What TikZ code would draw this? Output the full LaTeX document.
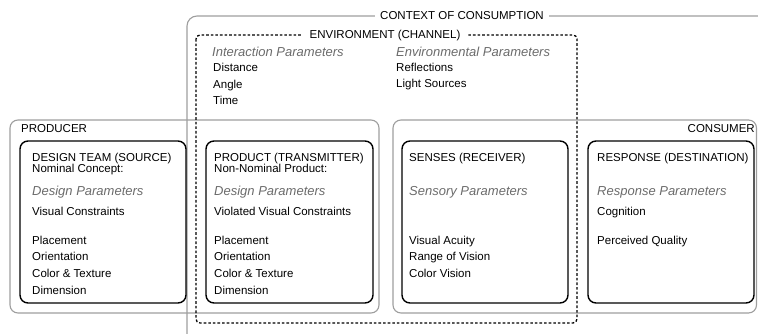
\documentclass[tikz,border=0pt]{standalone}
\usepackage{fontspec}
\setmainfont{Liberation Sans}
\begin{document}
\begin{tikzpicture}[x=1pt,y=-1pt,
  outerbox/.style={draw=black!38, line width=1.1pt, rounded corners=8pt},
  innerbox/.style={draw=black, line width=1.4pt, rounded corners=8pt},
  envbox/.style={draw=black, line width=1.3pt, dash pattern=on 2.6pt off 2pt, rounded corners=4pt},
  ttl/.style={font=\fontsize{11.5}{13}\selectfont, inner sep=0pt, anchor=base west},
  bodytxt/.style={font=\fontsize{11.5}{13}\selectfont, inner sep=0pt, anchor=base west},
  param/.style={font=\fontsize{13}{15}\selectfont\itshape, text=black!58, inner sep=0pt, anchor=base west}]
\useasboundingbox (0,0) rectangle (758,334);
% context of consumption
\draw[draw=black!38, line width=1.1pt, rounded corners=10pt] (187,334) -- (187,16) -- (758,16);
\node[font=\fontsize{11.5}{13}\selectfont, anchor=base, fill=white, inner xsep=5pt, inner ysep=2pt] (ctx) at (462,20) {CONTEXT OF CONSUMPTION};
% producer and consumer
\draw[outerbox] (10,120) rectangle (379,313);
\node[ttl] (prod) at (21,133) {PRODUCER};
\draw[outerbox] (393,120) rectangle (756.5,313);
\node[ttl, anchor=base east] (cons) at (755,133) {CONSUMER};
% environment
\draw[envbox] (196,35) rectangle (577,323);
\node[font=\fontsize{11.5}{13}\selectfont, anchor=base, fill=white, inner xsep=8pt, inner ysep=2pt] (env) at (385,39) {ENVIRONMENT (CHANNEL)};
\node[param] (ip) at (212,57) {Interaction Parameters};
\node[bodytxt] (e1) at (213,72) {Distance};
\node[bodytxt] (e2) at (213,89) {Angle};
\node[bodytxt] (e3) at (213,105) {Time};
\node[param] (ep) at (396,57) {Environmental Parameters};
\node[bodytxt] (e4) at (396,72) {Reflections};
\node[bodytxt] (e5) at (396,88) {Light Sources};
% inner boxes
\draw[innerbox] (20,141) rectangle (186,303);
\draw[innerbox] (206,141) rectangle (373,303);
\draw[innerbox] (402,141) rectangle (568,303);
\draw[innerbox] (588,141) rectangle (754,303);
% design team
\node[ttl] (a0) at (32,162) {DESIGN TEAM (SOURCE)};
\node[bodytxt] (a1) at (32,173) {Nominal Concept:};
\node[param] (a2) at (32,196) {Design Parameters};
\node[bodytxt] (a3) at (32,215) {Visual Constraints};
\node[bodytxt] (a4) at (32,244) {Placement};
\node[bodytxt] (a5) at (32,260) {Orientation};
\node[bodytxt] (a6) at (32,277) {Color \& Texture};
\node[bodytxt] (a7) at (32,294) {Dimension};
% product
\node[ttl] (b0) at (214,162) {PRODUCT (TRANSMITTER)};
\node[bodytxt] (b1) at (214,173) {Non-Nominal Product:};
\node[param] (b2) at (214,196) {Design Parameters};
\node[bodytxt] (b3) at (214,215) {Violated Visual Constraints};
\node[bodytxt] (b4) at (214,244) {Placement};
\node[bodytxt] (b5) at (214,260) {Orientation};
\node[bodytxt] (b6) at (214,277) {Color \& Texture};
\node[bodytxt] (b7) at (214,294) {Dimension};
% senses
\node[ttl] (c0) at (409,162) {SENSES (RECEIVER)};
\node[param] (c2) at (409,196) {Sensory Parameters};
\node[bodytxt] (c4) at (409,244) {Visual Acuity};
\node[bodytxt] (c5) at (409,260) {Range of Vision};
\node[bodytxt] (c6) at (409,277) {Color Vision};
% response
\node[ttl] (d0) at (597,162) {RESPONSE (DESTINATION)};
\node[param] (d2) at (597,196) {Response Parameters};
\node[bodytxt] (d3) at (597,215) {Cognition};
\node[bodytxt] (d4) at (597,244) {Perceived Quality};
\end{tikzpicture}
\end{document}
